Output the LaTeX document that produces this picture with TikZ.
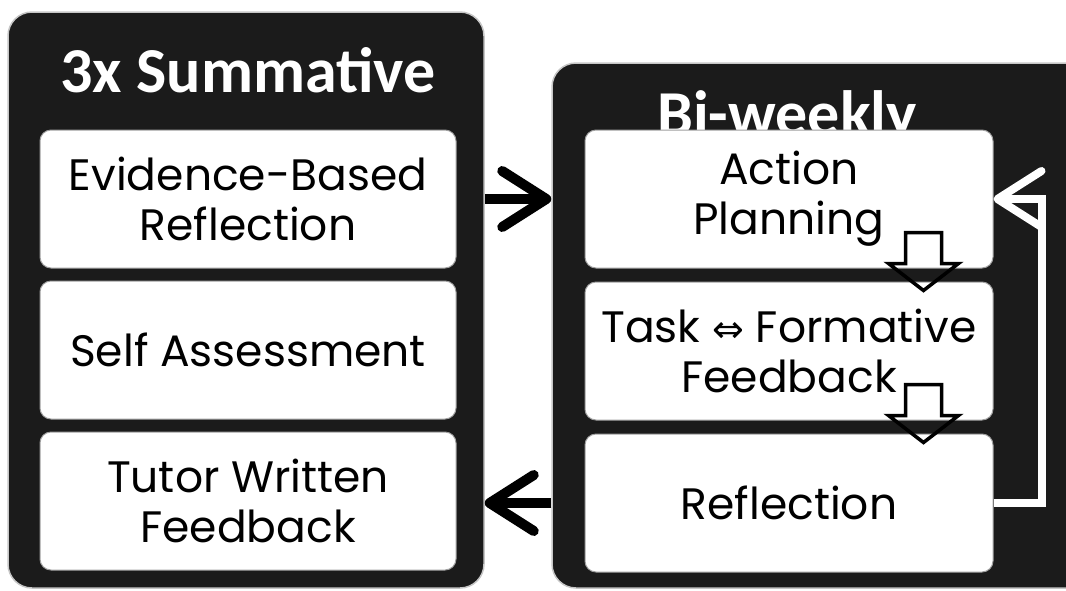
\documentclass[tikz,border=0pt]{standalone}
\usepackage{fontspec}
\setmainfont{Poppins}
\newfontfamily\headfont{Carlito}
\newfontfamily\symfont{DejaVu Sans}
\usetikzlibrary{arrows.meta}
\usetikzlibrary{positioning, calc}
\definecolor{panelcolor}{RGB}{27,27,27}
\tikzstyle{panel} = [draw=gray!45, line width=1.5pt, fill=panelcolor, rounded corners=24pt, inner sep=0]
\tikzstyle{itembox} = [draw=gray!75, line width=1pt, fill=white, rounded corners=11pt, align=center, inner sep=0, font=\fontsize{44}{50}\selectfont]
\tikzstyle{heading} = [text=white, inner sep=0, anchor=base, font=\headfont\bfseries\fontsize{64}{70}\selectfont]
\tikzstyle{fat} = [line width=10pt, -{Straight Barb[round, length=44pt, width=56pt]}]
\tikzstyle{hollow} = [draw, line width=3.5pt, line join=miter]

\begin{document}
\begin{tikzpicture}[x=1pt, y=-1pt]
            \clip (0,0) rectangle (1066,590);
            % Panels
            \node[panel, minimum width=476pt, minimum height=576pt] (summ) at (246,300) {};
            \node[panel, minimum width=548pt, minimum height=525pt] (cycle) at (826,325.5) {};

            % Titles
            \node[heading] (summtitle) at (248,92) {3x Summative};
            \node[heading] (cycletitle) at (787,135) {Bi-weekly};

            % Boxes
            \node[itembox, minimum width=416pt, minimum height=138pt] (ebr) at (248,199) {Evidence-Based\\Reflection};
            \node[itembox, minimum width=416pt, minimum height=138pt, below=12pt of ebr] (self) {Self Assessment};
            \node[itembox, minimum width=416pt, minimum height=138pt, below=12pt of self] (tutor) {Tutor Written\\Feedback};

            \node[itembox, minimum width=408pt, minimum height=138pt] (plan) at (789,199) {Action\\Planning};
            \node[itembox, minimum width=408pt, minimum height=138pt, below=13pt of plan] (task) {Task {\symfont\fontsize{38}{38}\selectfont ⇔} Formative\\Feedback};
            \node[itembox, minimum width=408pt, minimum height=138pt, below=13pt of task] (refl) {Reflection};

            % Connecting arrows
            \draw[fat] (summ.east |- ebr.center) -- (cycle.west |- ebr.center);
            \draw[fat] (cycle.west |- refl.center) -- (summ.east |- refl.center);
            \draw[fat, white, line width=8pt] (refl.east) -- ++(48,0) |- (plan.east);

            % Down arrows
            \coordinate (down1) at ($(plan.south)+(134,-36)$);
            \coordinate (down2) at ($(task.south)+(134,-36)$);
            \draw[hollow] (down1) ++(-17.5,0) -- ++(0,31) -- ++(-17,0) -- ++(35,27) -- ++(35,-27) -- ++(-17,0) -- ++(0,-31) -- cycle;
            \draw[hollow] (down2) ++(-17.5,0) -- ++(0,31) -- ++(-17,0) -- ++(35,27) -- ++(35,-27) -- ++(-17,0) -- ++(0,-31) -- cycle;
        \end{tikzpicture}
\end{document}
